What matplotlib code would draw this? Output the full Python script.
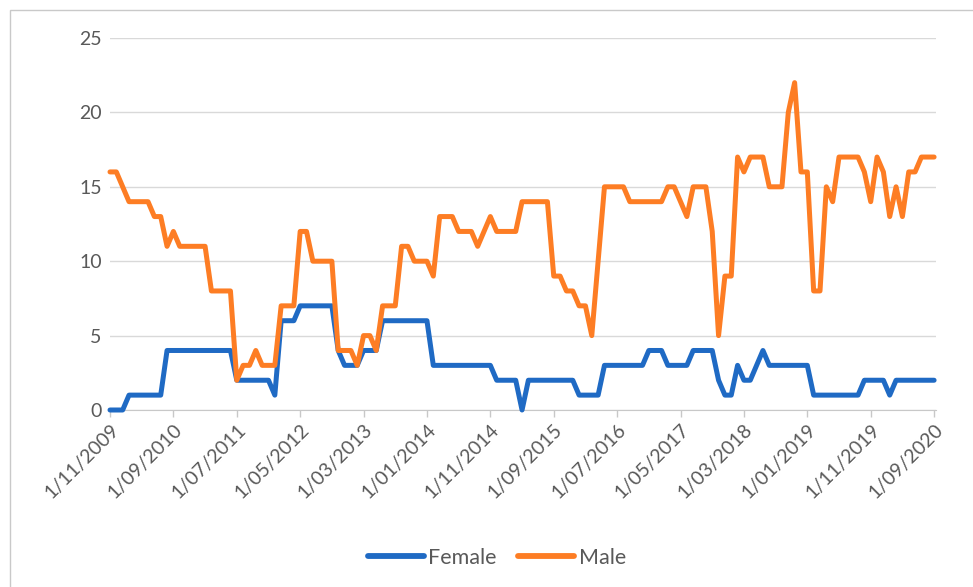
import numpy as np
import pandas as pd
import matplotlib
matplotlib.use("Agg")
import matplotlib.pyplot as plt
from matplotlib.patches import Rectangle

plt.rcParams['font.family'] = ['Lato', 'DejaVu Sans']

# monthly observations, Nov 2009 .. Sep 2020
months = pd.date_range("2009-11-01", "2020-09-01", freq="MS")

female = [0, 0, 0, 1, 1, 1, 1, 1, 1, 4, 4, 4, 4, 4, 4, 4, 4, 4, 4, 4,
          2, 2, 2, 2, 2, 2, 1, 6, 6, 6, 7, 7, 7, 7, 7, 7, 4, 3, 3, 3,
          4, 4, 4, 6, 6, 6, 6, 6, 6, 6, 6, 3, 3, 3, 3, 3, 3, 3, 3, 3,
          3, 2, 2, 2, 2, 0, 2, 2, 2, 2, 2, 2, 2, 2, 1, 1, 1, 1, 3, 3,
          3, 3, 3, 3, 3, 4, 4, 4, 3, 3, 3, 3, 4, 4, 4, 4, 2, 1, 1, 3,
          2, 2, 3, 4, 3, 3, 3, 3, 3, 3, 3, 1, 1, 1, 1, 1, 1, 1, 1, 2,
          2, 2, 2, 1, 2, 2, 2, 2, 2, 2, 2]

male = [16, 16, 15, 14, 14, 14, 14, 13, 13, 11, 12, 11, 11, 11, 11, 11, 8, 8, 8, 8,
        2, 3, 3, 4, 3, 3, 3, 7, 7, 7, 12, 12, 10, 10, 10, 10, 4, 4, 4, 3,
        5, 5, 4, 7, 7, 7, 11, 11, 10, 10, 10, 9, 13, 13, 13, 12, 12, 12, 11, 12,
        13, 12, 12, 12, 12, 14, 14, 14, 14, 14, 9, 9, 8, 8, 7, 7, 5, 10, 15, 15,
        15, 15, 14, 14, 14, 14, 14, 14, 15, 15, 14, 13, 15, 15, 15, 12, 5, 9, 9, 17,
        16, 17, 17, 17, 15, 15, 15, 20, 22, 16, 16, 8, 8, 15, 14, 17, 17, 17, 17, 16,
        14, 17, 16, 13, 15, 13, 16, 16, 17, 17, 17]

tick_labels = ["1/11/2009", "1/09/2010", "1/07/2011", "1/05/2012", "1/03/2013",
               "1/01/2014", "1/11/2014", "1/09/2015", "1/07/2016", "1/05/2017",
               "1/03/2018", "1/01/2019", "1/11/2019", "1/09/2020"]
tick_step = 10

blue = "#1F6AC4"
orange = "#FD7D24"
text_grey = "#595959"

fig = plt.figure(figsize=(9.73, 5.87), dpi=100)
ax = fig.add_axes([110 / 973, 1 - 410 / 587, 826 / 973, 372 / 587])

x = np.arange(len(months))
ax.plot(x, female, color=blue, lw=3.6, label="Female", clip_on=False,
        solid_joinstyle="round", solid_capstyle="round", zorder=3)
ax.plot(x, male, color=orange, lw=3.6, label="Male", clip_on=False,
        solid_joinstyle="round", solid_capstyle="round", zorder=3)

ax.set_ylim(0, 25)
ax.set_xlim(0, 130.3)
ax.set_yticks(range(0, 26, 5))
ax.grid(axis="y", color="#d9d9d9", lw=1)
ax.set_axisbelow(True)
for s in ["top", "right", "left"]:
    ax.spines[s].set_visible(False)
ax.spines["bottom"].set_color("#c8c8c8")

ax.set_xticks(x[::tick_step])
ax.set_xticklabels(tick_labels, rotation=45, ha="right", rotation_mode="anchor")
ax.tick_params(axis="x", length=5, width=1, color="#c8c8c8",
               labelcolor=text_grey, labelsize=14, pad=3)
ax.tick_params(axis="y", length=0, labelcolor=text_grey, labelsize=14, pad=6)

leg = ax.legend(loc="center", bbox_to_anchor=(497 / 973, 1 - 558 / 587),
                bbox_transform=fig.transFigure, ncol=2, frameon=False,
                handlelength=2.6, fontsize=15.5, labelcolor=text_grey,
                columnspacing=1.0, handletextpad=0.2)
for line in leg.get_lines():
    line.set_linewidth(4.2)

# outer chart border (cropped on the right and bottom)
fig.patches.append(Rectangle((10 / 973, -0.05), 1.0, 1 - 10 / 587 + 0.05,
                             transform=fig.transFigure, fill=False,
                             edgecolor="#c9c9c9", lw=1))

fig.savefig("out.png", dpi=100)
